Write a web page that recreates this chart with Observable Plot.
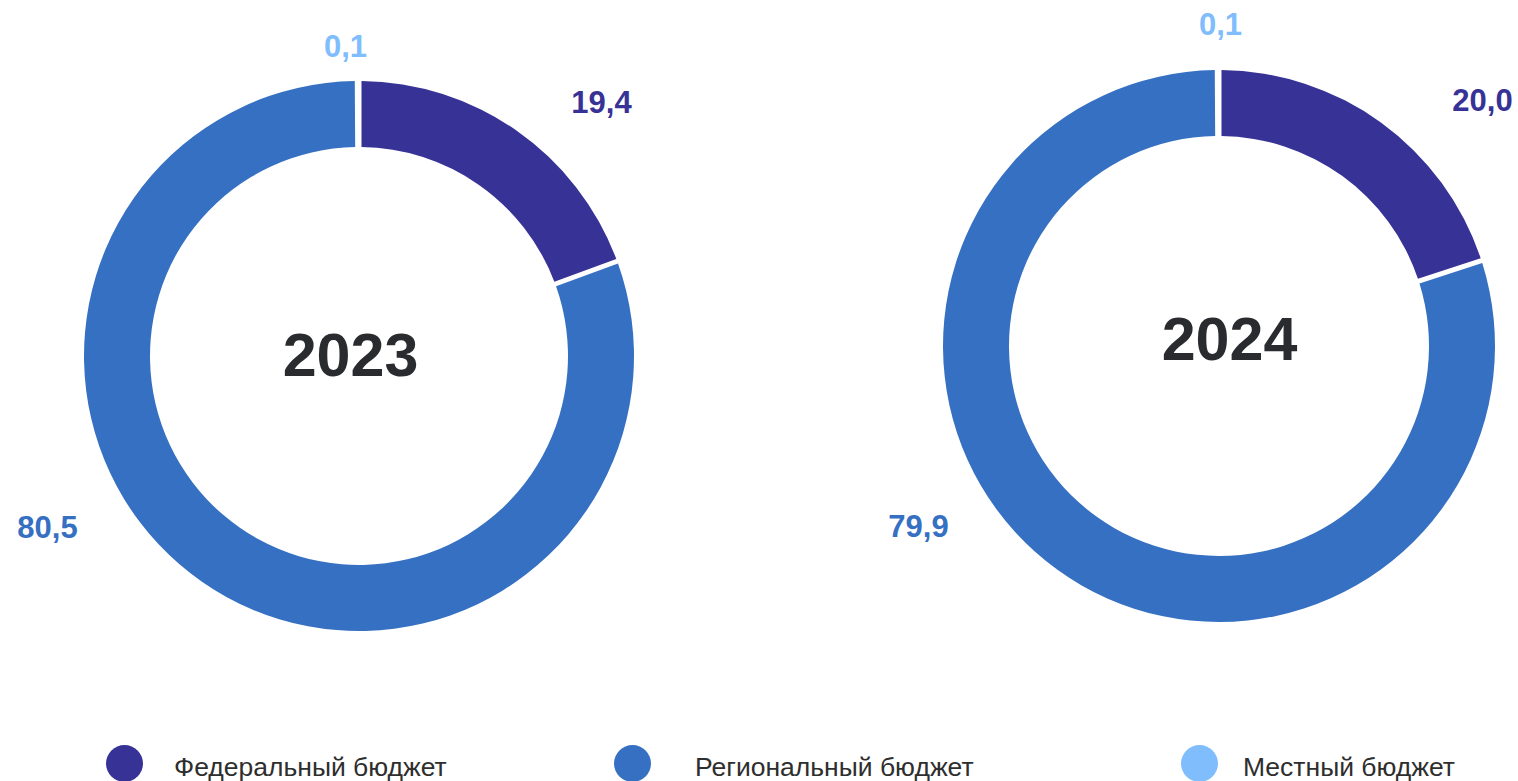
<!DOCTYPE html>
<html>
<head>
<meta charset="utf-8">
<script src="https://cdn.jsdelivr.net/npm/d3@7"></script>
<script src="https://cdn.jsdelivr.net/npm/@observablehq/plot@0.6"></script>
<style>
  html, body { margin: 0; padding: 0; background: #fff; }
  body { font-family: "Liberation Sans", Arial, sans-serif; width: 1518px; overflow: hidden; }
  #legend { position: relative; height: 60px; width: 1518px; }
  .sw { position: absolute; top: 15px; width: 37px; height: 37px; border-radius: 50%; }
  .lt { position: absolute; top: 22px; font-size: 26.5px; line-height: 30px; color: #2e2e2e; white-space: nowrap; }
</style>
</head>
<body>
<div id="chart"></div>
<div id="legend"></div>
<script>
// ---- data ----
const categories = ["Федеральный бюджет", "Региональный бюджет", "Местный бюджет"];
const years = ["2023", "2024"];
const values2023 = [19.4, 80.5, 0.1];
const values2024 = [20.0, 79.9, 0.1];
const valueLabels2023 = ["19,4", "80,5", "0,1"];
const valueLabels2024 = ["20,0", "79,9", "0,1"];
const colors = ["#373296", "#3570c2", "#80bdfd"];

// ---- layout (pixels) ----
const W = 1518, H = 730;
const donuts = [
  {year: years[0], values: values2023, labels: valueLabels2023, cx: 359, cy: 356, R: 275, r: 209,
   titleOffset: [-9, 0],
   labelOffsets: [[242, -253], [-312, 172], [-14, -309]]},
  {year: years[1], values: values2024, labels: valueLabels2024, cx: 1219, cy: 346, R: 276, r: 210,
   titleOffset: [10, -6],
   labelOffsets: [[263, -245], [-301, 181], [1, -321]]}
];

const pie = d3.pie().sort(null).value(d => d.value);
const slices = [];
const labels = [];
const centers = [];
for (const dn of donuts) {
  const rows = categories.map((c, i) => ({category: c, value: dn.values[i], label: dn.labels[i]}));
  pie(rows).forEach((a, i) => {
    slices.push({year: dn.year, category: a.data.category, startAngle: a.startAngle, endAngle: a.endAngle,
                 cx: dn.cx, cy: dn.cy, R: dn.R, r: dn.r});
    labels.push({category: a.data.category, text: a.data.label,
                 x: dn.cx + dn.labelOffsets[i][0], y: dn.cy + dn.labelOffsets[i][1]});
  });
  centers.push({text: dn.year, x: dn.cx + dn.titleOffset[0], y: dn.cy + dn.titleOffset[1]});
}

// custom arc mark drawn through Plot's x/y/color scales
function arcMark(data) {
  return (index, scales) => {
    const g = d3.create("svg:g");
    for (const d of data) {
      const px = scales.x(d.cx), py = scales.y(d.cy);
      const R = scales.x(d.cx + d.R) - px;
      const r = scales.x(d.cx + d.r) - px;
      const arc = d3.arc().innerRadius(r).outerRadius(R).padAngle(5 / 275).padRadius(275);
      g.append("path")
        .attr("transform", `translate(${px},${py})`)
        .attr("d", arc({startAngle: d.startAngle, endAngle: d.endAngle}))
        .attr("fill", scales.color(d.category));
    }
    return g.node();
  };
}

const chart = Plot.plot({
  width: W,
  height: H,
  margin: 0,
  style: {fontFamily: "'Liberation Sans', Arial, sans-serif", background: "#fff"},
  x: {domain: [0, W], range: [0, W], axis: null},
  y: {domain: [0, H], range: [0, H], axis: null},
  color: {domain: categories, range: colors},
  marks: [
    arcMark(slices),
    Plot.text(labels, {x: "x", y: "y", text: "text", fill: "category", fontSize: 31, fontWeight: "bold"}),
    Plot.text(centers, {x: "x", y: "y", text: "text", fill: "#2a2b2f", fontSize: 61, fontWeight: "bold"})
  ]
});
document.getElementById("chart").appendChild(chart);

// legend
const legendPos = [[106, 174], [614, 695], [1181, 1243]];
const legend = d3.select("#legend");
categories.forEach((c, i) => {
  legend.append("div").attr("class", "sw").style("left", legendPos[i][0] + "px").style("background", colors[i]);
  legend.append("div").attr("class", "lt").style("left", legendPos[i][1] + "px").text(c);
});
</script>
</body>
</html>
